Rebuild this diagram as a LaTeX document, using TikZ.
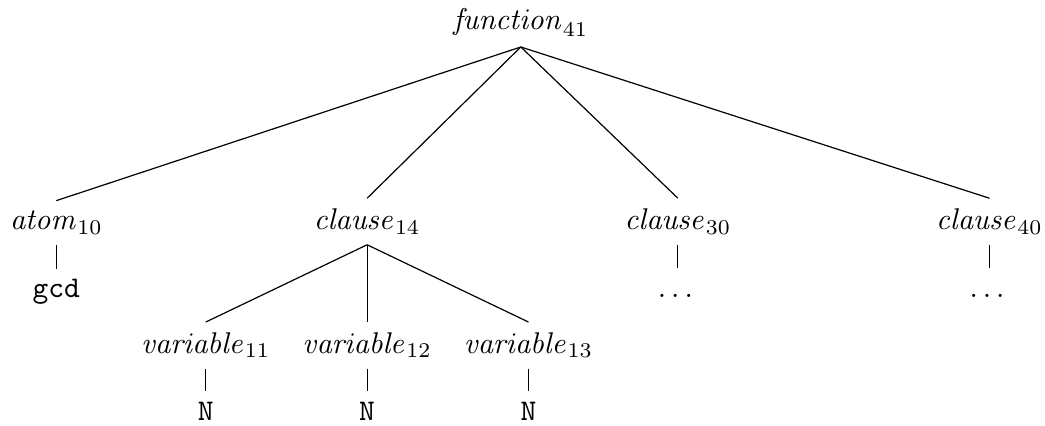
\documentclass[tikz,border=0pt]{standalone}
\usepackage{amsmath,amssymb}
\usepackage{tikz}
\usetikzlibrary{positioning}

\begin{document}
\begin{tikzpicture}[
    term/.style={anchor=base, inner sep=3.33pt},
    leaf/.style={anchor=base, font=\ttfamily},
    more/.style={anchor=base, text height=1.5ex},
    edge/.style={line width=0.4pt}
]
\useasboundingbox (0,0) rectangle (12.24,-4.98);

\node[term] (fn) at (6.10,-0.34) {$\mathit{function}_{41}$};

\node[term] (atom) at (0.66,-2.69) {$\mathit{atom}_{10}$};
\node[term] (cl14) at (4.30,-2.69) {$\mathit{clause}_{14}$};
\node[term] (cl30) at (7.94,-2.69) {$\mathit{clause}_{30}$};
\node[term] (cl40) at (11.59,-2.69) {$\mathit{clause}_{40}$};

\node[leaf] (gcd) at (0.66,-3.49) {gcd};
\node[more] (dots30) at (7.94,-3.49) {$\dots$};
\node[more] (dots40) at (11.59,-3.49) {$\dots$};

\node[term] (var11) at (2.41,-4.14) {$\mathit{variable}_{11}$};
\node[term] (var12) at (4.30,-4.14) {$\mathit{variable}_{12}$};
\node[term] (var13) at (6.19,-4.14) {$\mathit{variable}_{13}$};

\node[leaf] (n11) at (2.41,-4.92) {N};
\node[leaf] (n12) at (4.30,-4.92) {N};
\node[leaf] (n13) at (6.19,-4.92) {N};

\draw[edge] (fn.south) -- (atom.north);
\draw[edge] (fn.south) -- (cl14.north);
\draw[edge] (fn.south) -- (cl30.north);
\draw[edge] (fn.south) -- (cl40.north);
\draw[edge] (atom.south) -- (gcd.north);
\draw[edge] (cl30.south) -- (dots30.north);
\draw[edge] (cl40.south) -- (dots40.north);
\draw[edge] (cl14.south) -- (var11.north);
\draw[edge] (cl14.south) -- (var12.north);
\draw[edge] (cl14.south) -- (var13.north);
\draw[edge] (var11.south) -- (n11.north);
\draw[edge] (var12.south) -- (n12.north);
\draw[edge] (var13.south) -- (n13.north);
\end{tikzpicture}
\end{document}
